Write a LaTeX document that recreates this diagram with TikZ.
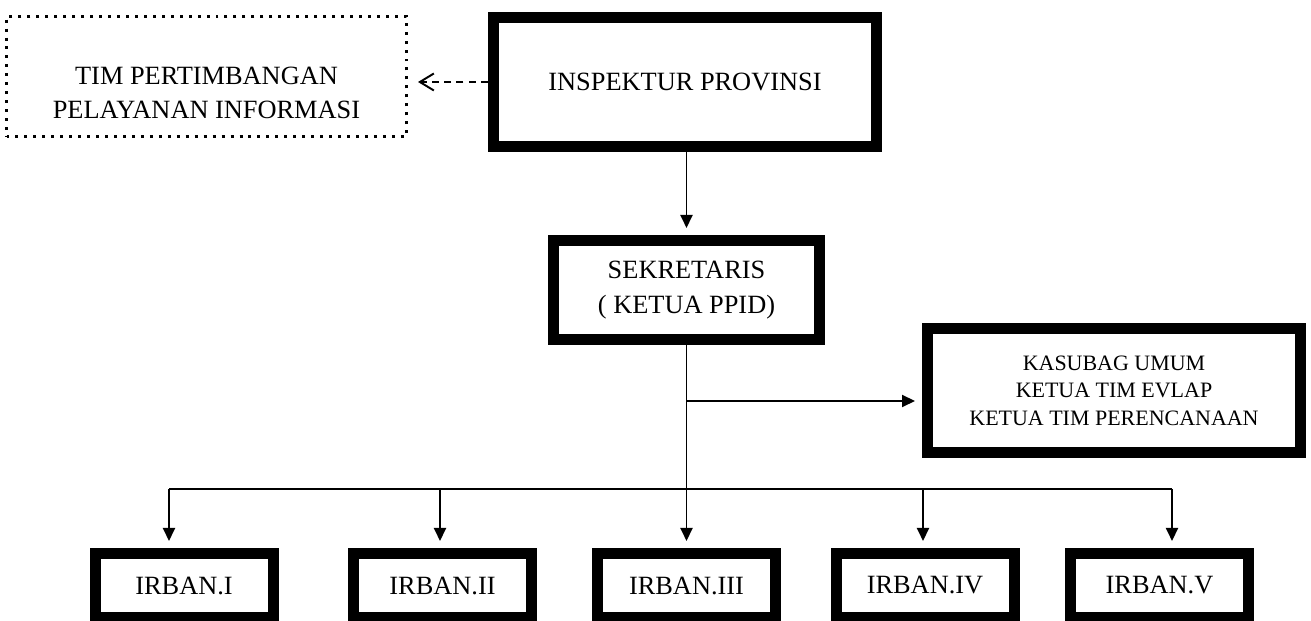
\documentclass[tikz,border=0pt]{standalone}
\usepackage{fontspec}
\setmainfont{Liberation Serif}
\usetikzlibrary{arrows.meta}

\begin{document}
\begin{tikzpicture}[
  box/.style={draw, line width=0.22cm, align=center, font=\fontsize{15}{19.5}\selectfont},
  irbanbox/.style={box, minimum width=3.56cm, minimum height=1.28cm},
  dotbox/.style={draw, line width=1.7pt, dash pattern=on 1.7pt off 3.4pt, minimum width=8cm, minimum height=2.4cm},
  conn/.style={line width=1.1pt, -{Triangle[length=0.26cm,width=0.24cm]}, shorten >=0.14cm},
  bus/.style={line width=1.1pt}
]

% Fix the page size and cut the boxes at the bottom edge
\useasboundingbox (0,0) rectangle (26.22,12.42);
\clip (0,0) rectangle (26.22,12.42);

% Define the coordinates
\coordinate (branch) at (13.73,4.4);
\coordinate (bus1) at (3.38,2.64);
\coordinate (bus2) at (8.8,2.64);
\coordinate (bus4) at (18.46,2.64);
\coordinate (bus5) at (23.44,2.64);

% Draw the boxes
\node[dotbox] (tim) at (4.13,10.89) {};
\node[align=center, font=\fontsize{15}{19.5}\selectfont] (timtext) at ([yshift=-0.33cm]tim.center)
  {TIM PERTIMBANGAN\\PELAYANAN INFORMASI};
\node[box, minimum width=7.66cm, minimum height=2.58cm] (insp) at (13.7,10.78) {INSPEKTUR PROVINSI};
\node[box, minimum width=5.32cm, minimum height=1.98cm] (sek) at (13.73,6.62) {SEKRETARIS\\( KETUA PPID)};
\node[box, minimum width=7.46cm, minimum height=2.48cm, font=\fontsize{12.5}{15.6}\selectfont] (kas) at (22.28,4.61)
  {KASUBAG UMUM\\KETUA TIM EVLAP\\KETUA TIM PERENCANAAN};

% Draw the IRBAN row
\node[irbanbox] (irb1) at (3.68,0.71) {IRBAN.I};
\node[irbanbox] (irb2) at (8.85,0.71) {IRBAN.II};
\node[irbanbox] (irb3) at (13.73,0.71) {IRBAN.III};
\node[irbanbox] (irb4) at (18.5,0.71) {IRBAN.IV};
\node[irbanbox] (irb5) at (23.19,0.71) {IRBAN.V};

% Draw the connectors
\draw[line width=1.1pt, dash pattern=on 4pt off 3pt, -{Straight Barb[length=0.28cm,width=0.34cm]}, shorten >=0.2cm]
  (insp.west) -- (insp.west -| tim.east);
\draw[conn] (insp.south -| sek.north) -- (sek.north);
\draw[conn] (sek.south) -- (irb3.north);
\draw[conn] (branch) -- (branch -| kas.west);
\draw[bus] (bus1) -- (bus5);
\draw[conn] (bus1) -- (bus1 |- irb1.north);
\draw[conn] (bus2) -- (bus2 |- irb2.north);
\draw[conn] (bus4) -- (bus4 |- irb4.north);
\draw[conn] (bus5) -- (bus5 |- irb5.north);

\end{tikzpicture}
\end{document}
